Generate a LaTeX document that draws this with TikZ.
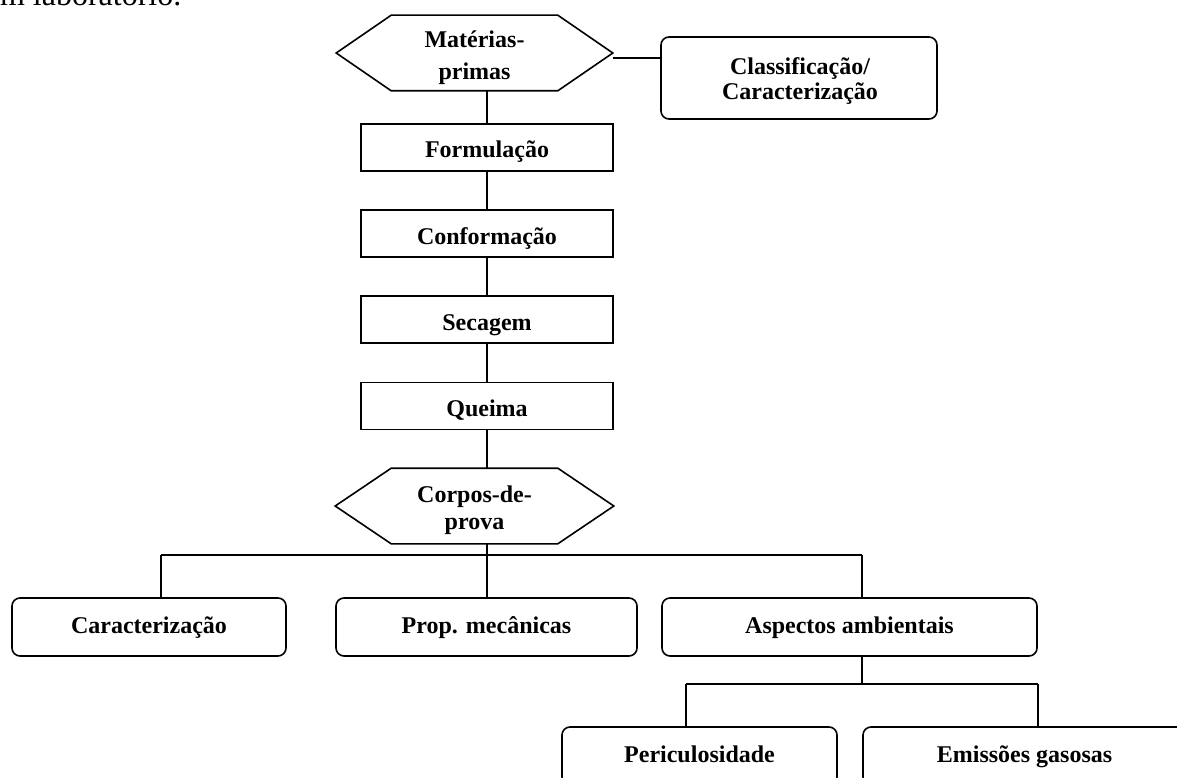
\documentclass[tikz,border=0pt]{standalone}
\usepackage{fontspec}
\setmainfont{Liberation Serif}
\begin{document}
\begin{tikzpicture}[x=1pt, y=-1pt,
  line width=1.6pt, line join=miter,
  lbl/.style={font=\fontsize{24}{30}\selectfont\bfseries, inner sep=0pt},
  stepbox/.style={draw, minimum width=252pt, minimum height=47pt, inner sep=0pt,
    font=\fontsize{24}{30}\selectfont\bfseries, text height=21pt, text depth=0pt},
  roundbox/.style={draw, rounded corners=8pt, minimum height=58pt, inner sep=0pt,
    font=\fontsize{24}{30}\selectfont\bfseries, text height=12pt, text depth=0pt},
  hexnode/.style={minimum height=74pt, inner sep=0pt}]
\useasboundingbox (0,0) rectangle (1177,778);

% tail of the preceding sentence
\node[font=\fontsize{32}{36}\selectfont, inner sep=0pt, anchor=base west] (prev) at (-15,6) {em laboratório.};

% hexagonal outline around a node
\newcommand{\hexoutline}[2]{%
  \draw (#1.west) -- ([xshift=#2pt]#1.north west) -- ([xshift=-#2pt]#1.north east)
    -- (#1.east) -- ([xshift=-#2pt]#1.south east) -- ([xshift=#2pt]#1.south west) -- cycle;}

% raw materials
\node[hexnode, minimum width=275pt] (mp) at (474.5,53) {};
\hexoutline{mp}{55}
\node[lbl, anchor=base] (mpa) at (474.5,48) {Matérias-};
\node[lbl, anchor=base] (mpb) at (474.5,80) {primas};

% classification box
\node[draw, rounded corners=8pt, minimum width=276pt, minimum height=82pt] (cls) at (799,78) {};
\node[lbl, anchor=base] (clsa) at (800,75) {Classificação/};
\node[lbl, anchor=base] (clsb) at (800,100) {Caracterização};

% process steps
\node[stepbox] (f) at (487,147.5) {Formulação};
\node[stepbox] (c) at (487,233.5) {Conformação};
\node[stepbox] (s) at (487,319.5) {Secagem};
\node[stepbox] (q) at (487,406) {Queima};

% test specimens
\node[hexnode, minimum width=277pt] (cp) at (474.5,506) {};
\hexoutline{cp}{56}
\node[lbl, anchor=base] (cpa) at (474.5,502) {Corpos-de-};
\node[lbl, anchor=base] (cpb) at (474.5,529) {prova};

% analyses
\node[roundbox, minimum width=274pt] (car) at (149,627) {Caracterização};
\node[roundbox, minimum width=301pt] (pm) at (486.5,627) {Prop. mecânicas};
\node[roundbox, minimum width=375pt] (aa) at (849.5,627) {Aspectos ambientais};
\node[roundbox, minimum width=275pt] (per) at (699.5,756) {Periculosidade};
\node[roundbox, minimum width=323pt] (em) at (1024.5,756) {Emissões gasosas};

% junction points
\coordinate (j1) at (161,555);
\coordinate (j2) at (487,555);
\coordinate (j3) at (862,555);
\coordinate (k0) at (862,684);
\coordinate (k1) at (686,684);
\coordinate (k2) at (1038,684);

% connectors
\draw ([yshift=-5pt]mp.east) -- ([yshift=-5pt]mp.east -| cls.west);
\draw (f.north |- mp.south) -- (f.north);
\draw (f.south) -- (c.north);
\draw (c.south) -- (s.north);
\draw (s.south) -- (q.north);
\draw (q.south) -- (q.south |- cp.north);
\draw (q.south |- cp.south) -- (j2);
\draw (j1) -- (j3);
\draw (j1) -- (j1 |- car.north);
\draw (j2) -- (j2 |- pm.north);
\draw (j3) -- (j3 |- aa.north);
\draw (k0 |- aa.south) -- (k0);
\draw (k1) -- (k2);
\draw (k1) -- (k1 |- per.north);
\draw (k2) -- (k2 |- em.north);
\end{tikzpicture}
\end{document}
